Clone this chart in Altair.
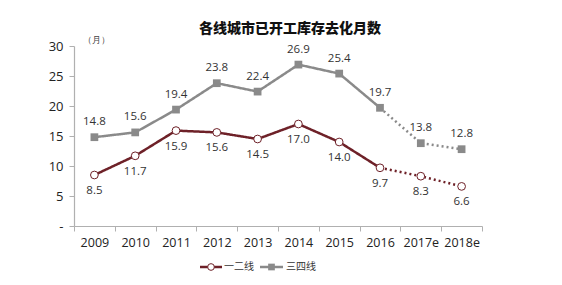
import altair as alt
import pandas as pd

years = ["2009", "2010", "2011", "2012", "2013", "2014", "2015", "2016", "2017e", "2018e"]
tier12 = [8.5, 11.7, 15.9, 15.6, 14.5, 17.0, 14.0, 9.7, 8.3, 6.6]
tier34 = [14.8, 15.6, 19.4, 23.8, 22.4, 26.9, 25.4, 19.7, 13.8, 12.8]
series_names = ["一二线", "三四线"]
y_ticks = [0, 5, 10, 15, 20, 25, 30]

MAROON = "#6e2128"
GRAY = "#8a8a8a"

rows = []
for name, vals in zip(series_names, [tier12, tier34]):
    for i, (yr, v) in enumerate(zip(years, vals)):
        rows.append({"year": yr, "series": name, "value": v, "idx": i})
df = pd.DataFrame(rows)

seg_rows = []
for r in rows:
    if r["idx"] <= 7:
        seg_rows.append(dict(r, seg="solid"))
    if r["idx"] >= 7:
        seg_rows.append(dict(r, seg="dot"))
seg_df = pd.DataFrame(seg_rows)

xenc = alt.X("year:N", sort=years, title=None,
             scale=alt.Scale(type="band", paddingInner=0, paddingOuter=0),
             bandPosition=0.5,
             axis=alt.Axis(tickBand="extent", labelAngle=0, labelFontSize=12.5,
                           labelColor="#222", labelFont="Open Sans", labelPadding=5,
                           domainColor="#b0b0b0", tickColor="#b0b0b0", tickSize=5,
                           domainWidth=1.2, labelOverlap=False))
yenc = alt.Y("value:Q", title=None,
             scale=alt.Scale(domain=[0, 30], nice=False),
             axis=alt.Axis(values=y_ticks, labelExpr="datum.value == 0 ? '-' : datum.label",
                           labelFontSize=13, labelColor="#222", labelFont="Open Sans",
                           labelPadding=6, domainColor="#b0b0b0", tickColor="#b0b0b0",
                           tickSize=5, grid=False, domainWidth=1.2))

color = alt.Color("series:N", scale=alt.Scale(domain=series_names, range=[MAROON, GRAY]), legend=None)

lines = alt.Chart(seg_df).mark_line(strokeWidth=2.5).encode(
    x=xenc, y=yenc, color=color,
    detail="seg:N",
    strokeDash=alt.StrokeDash("seg:N", scale=alt.Scale(domain=["solid", "dot"], range=[[1, 0], [2, 3]]), legend=None),
)

pts12 = alt.Chart(df[df.series == "一二线"]).mark_point(
    shape="circle", filled=True, fill="white", stroke=MAROON, strokeWidth=1, size=60, opacity=1
).encode(x=xenc, y=yenc)

pts34 = alt.Chart(df[df.series == "三四线"]).mark_point(
    shape="square", filled=True, color=GRAY, size=60, opacity=1
).encode(x=xenc, y=yenc)

lab34 = alt.Chart(df[df.series == "三四线"]).mark_text(
    dy=-15, fontSize=11.5, color="#333", font="Open Sans"
).encode(x=xenc, y=yenc, text=alt.Text("value:Q", format=".1f"))

lab12 = alt.Chart(df[df.series == "一二线"]).mark_text(
    dy=16, fontSize=11.5, color="#333", font="Open Sans"
).encode(x=xenc, y=yenc, text=alt.Text("value:Q", format=".1f"))

unit = alt.Chart(pd.DataFrame({"t": ["（月）"]})).mark_text(
    fontSize=9, color="#444", align="center", baseline="middle"
).encode(x=alt.value(22), y=alt.value(-6), text="t:N")

# legend (decorative, placed below the plot)
LEG_Y = 221
leg_layers = []
for name, col, shape, x1, x2, xt in [("一二线", MAROON, "circle", 126, 148, 150),
                                     ("三四线", GRAY, "square", 186, 209, 212)]:
    one = pd.DataFrame({"series": [name]})
    leg_layers.append(alt.Chart(one).mark_rule(strokeWidth=2.5, color=col).encode(
        x=alt.value(x1), x2=alt.value(x2), y=alt.value(LEG_Y)))
    if shape == "circle":
        leg_layers.append(alt.Chart(one).mark_point(
            shape="circle", filled=True, fill="white", stroke=col, strokeWidth=1, size=45, opacity=1
        ).encode(x=alt.value((x1 + x2) / 2), y=alt.value(LEG_Y)))
    else:
        leg_layers.append(alt.Chart(one).mark_point(
            shape="square", filled=True, color=col, size=45, opacity=1
        ).encode(x=alt.value((x1 + x2) / 2), y=alt.value(LEG_Y)))
    leg_layers.append(alt.Chart(one).mark_text(
        align="left", baseline="middle", fontSize=10, color="#333", font="Noto Sans CJK SC"
    ).encode(x=alt.value(xt), y=alt.value(LEG_Y), text="series:N"))

chart = alt.layer(lines, pts12, pts34, lab34, lab12, unit, *leg_layers).properties(
    width=408, height=180,
    title=alt.Title("各线城市已开工库存去化月数", fontSize=14, fontWeight=900,
                    font="Noto Sans CJK SC", color="#111", anchor="middle", dx=12, offset=0),
    autosize=alt.AutoSizeParams(type="none"),
    padding={"left": 74, "top": 46, "right": 80, "bottom": 59},
).configure_view(stroke=None)

chart.save("out.html", embed_options={"renderer": "svg", "actions": False})
